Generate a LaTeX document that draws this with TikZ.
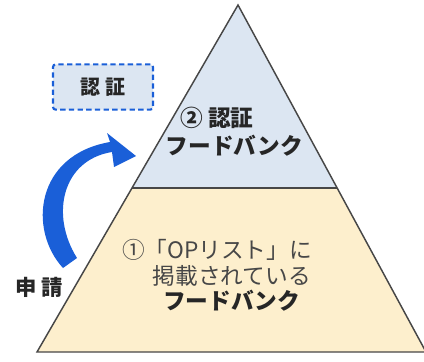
\documentclass[tikz,border=0pt]{standalone}
\usepackage{fontspec}
\newfontfamily\jp{Noto Sans CJK JP}
\usetikzlibrary{positioning, calc}
\definecolor{toptri}{HTML}{DCE6F2}
\definecolor{lowtri}{HTML}{FDEFCD}
\definecolor{arrowblue}{HTML}{1A5FD8}
\definecolor{ink}{HTML}{262626}

\begin{document}
\begin{tikzpicture}[x=0.75pt, y=-0.75pt,
    label/.style={font=\jp\bfseries\fontsize{17}{21}\selectfont, text=ink, align=center, inner sep=1pt},
    plain/.style={font=\jp\fontsize{17}{21}\selectfont, text=ink!85, align=center, inner sep=1pt},
    dashbox/.style={draw=arrowblue, dashed, dash pattern=on 4pt off 2.5pt, line width=1.6pt, fill=toptri,
        rounded corners=2pt, minimum width=75pt, minimum height=34pt,
        font=\jp\bfseries\fontsize{15}{18}\selectfont, text=ink}]
    \useasboundingbox (0,0) rectangle (424,361);

    % pyramid
    \coordinate (apex) at (238,5);
    \coordinate (bl) at (37,352);
    \coordinate (br) at (426,352);
    \coordinate (ml) at ($(apex)!0.527!(bl)$);
    \coordinate (mr) at ($(apex)!0.527!(br)$);
    \fill[lowtri] (ml) -- (mr) -- (br) -- (bl) -- cycle;
    \fill[toptri] (apex) -- (mr) -- (ml) -- cycle;
    \draw[ink!85, line width=1.1pt, line join=miter] (apex) -- (br) -- (bl) -- cycle;
    \draw[ink!85, line width=1.1pt] (ml) -- (mr);

    % texts
    \node[label] (cert) at (217,118) {② 認証};
    \node[label, below=2pt of cert, xshift=13pt] (certfb) {フードバンク};
    \node[plain] (oplist) at (217,250) {①「OPリスト」に};
    \node[plain, below=1pt of oplist, xshift=11pt] (listed) {掲載されている};
    \node[label, below=1pt of listed] (listfb) {フードバンク};

    \node[dashbox] (box) at (103,87) {認 証};
    \node[label, font=\jp\bfseries\fontsize{16}{18}\selectfont] (apply) at (39,287) {申 請};

    % arrow
    \fill[arrowblue] (63,268) .. controls (28,230) and (35,155) .. (110,142)
        -- (107,133) -- (136,156) -- (114,167) -- (112,152)
        .. controls (62,160) and (50,215) .. (77,258) -- cycle;
\end{tikzpicture}
\end{document}
